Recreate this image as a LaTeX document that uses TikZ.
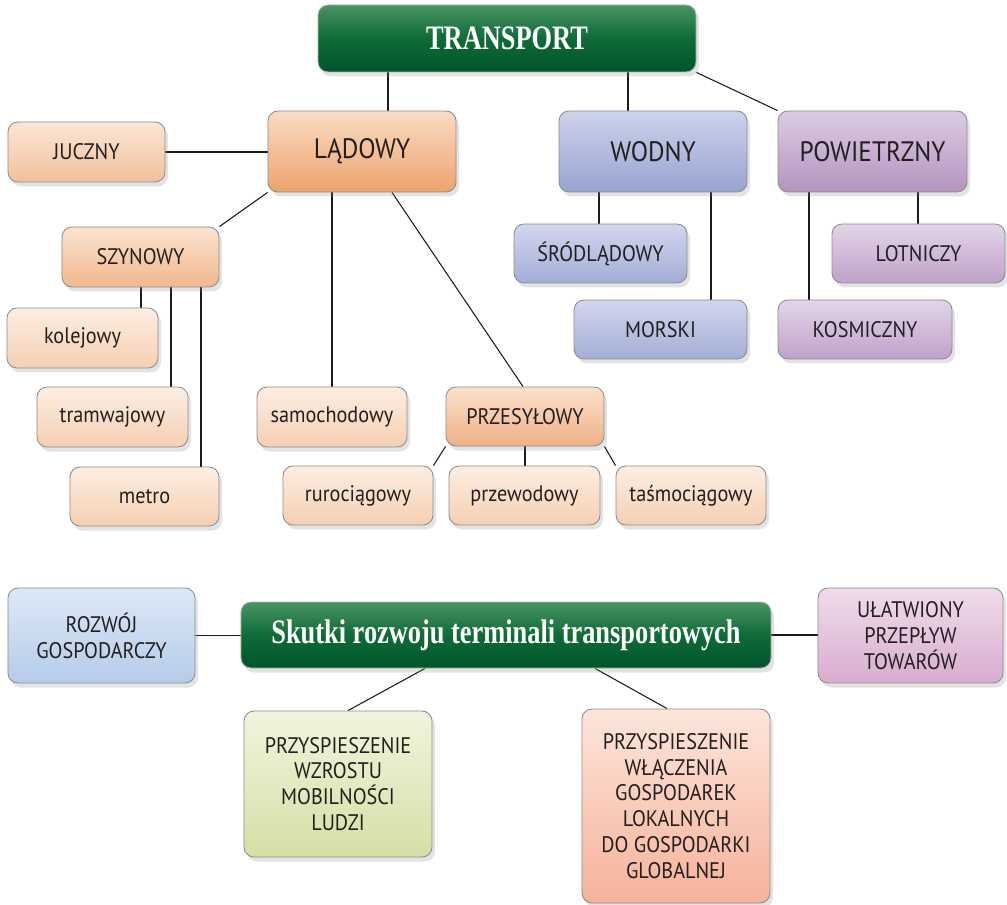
\documentclass[tikz,border=0pt]{standalone}
\usepackage{fontspec}
\setmainfont{PT Sans}[FakeStretch=0.9]
\newfontfamily\titlefont{Liberation Serif}[FakeStretch=0.77]
\usetikzlibrary{shadows,backgrounds,calc}
\definecolor{txt}{HTML}{231F20}
\definecolor{lineclr}{HTML}{1A1A1A}
\definecolor{gT}{HTML}{4A9464}\definecolor{gM}{HTML}{0E6B37}\definecolor{gB}{HTML}{00542A}
\definecolor{ladT}{HTML}{FADCC4}\definecolor{ladB}{HTML}{EDA36D}
\definecolor{wodT}{HTML}{CDD3EB}\definecolor{wodB}{HTML}{98A3D2}
\definecolor{powT}{HTML}{DDCBE3}\definecolor{powB}{HTML}{B394BF}
\definecolor{juT}{HTML}{FCE6D4}\definecolor{juB}{HTML}{F2C09C}
\definecolor{szT}{HTML}{FCE3CF}\definecolor{szB}{HTML}{F0B88E}
\definecolor{subT}{HTML}{FDEEE2}\definecolor{subB}{HTML}{F5CFB2}
\definecolor{prT}{HTML}{FCE1CC}\definecolor{prB}{HTML}{EFB086}
\definecolor{wsT}{HTML}{D2D7EE}\definecolor{wsB}{HTML}{A3ADD7}
\definecolor{psT}{HTML}{E3D4E8}\definecolor{psB}{HTML}{BFA2C9}
\definecolor{rzT}{HTML}{DDE8F6}\definecolor{rzB}{HTML}{B5CCEA}
\definecolor{ulT}{HTML}{EFDCEB}\definecolor{ulB}{HTML}{D8ADD0}
\definecolor{mbT}{HTML}{F1F5DE}\definecolor{mbB}{HTML}{D4DFA5}
\definecolor{glT}{HTML}{FDE5DB}\definecolor{glB}{HTML}{F6B29A}
\tikzset{
  base/.style={draw=black!45, line width=0.5pt, rounded corners=0.2cm, inner sep=0pt,
    text=txt, align=center, drop shadow={opacity=0.22, shadow xshift=0.6mm, shadow yshift=-0.9mm}},
  shb/.style 2 args={base, top color=#1, bottom color=#2},
  big/.style={font=\fontsize{16}{19}\selectfont},
  small/.style={font=\fontsize{12.8}{14.7}\selectfont},
  ttl/.style={base, draw=black!30, top color=gT, bottom color=gB, middle color=gM, text=white},
  thk/.style={draw=lineclr, line width=1.1pt},
  thn/.style={draw=lineclr, line width=0.6pt},
}
\newcommand\bx[7]{%
  \pgfmathsetmacro\cxx{(#3+#5)/2}\pgfmathsetmacro\cyy{(#4+#6)/2}%
  \pgfmathsetmacro\ww{(#5-#3)*0.02}\pgfmathsetmacro\hh{(#6-#4)*0.02}%
  \node[#2, minimum width=\ww cm, minimum height=\hh cm] (#1) at (\cxx,\cyy) {#7};}
\begin{document}
\begin{tikzpicture}[x=0.02cm,y=-0.02cm]
\useasboundingbox (0,0) rectangle (1007,905);
% top tree
\bx{tr}{ttl, font=\titlefont\bfseries\fontsize{19.5}{22}\selectfont}{318}{5}{696}{72}{TRANSPORT}
\bx{lad}{shb={ladT}{ladB}, big}{268}{111}{456}{192}{LĄDOWY}
\bx{wod}{shb={wodT}{wodB}, big}{559}{111}{747}{192}{WODNY}
\bx{pow}{shb={powT}{powB}, big}{778}{111}{967}{192}{POWIETRZNY}
\bx{jucz}{shb={juT}{juB}, small}{8}{122}{165}{182}{JUCZNY}
\bx{szyn}{shb={szT}{szB}, small}{62}{227}{219}{287}{SZYNOWY}
\bx{kol}{shb={subT}{subB}, small}{7}{308}{158}{368}{kolejowy}
\bx{tram}{shb={subT}{subB}, small}{37}{387}{188}{447}{tramwajowy}
\bx{met}{shb={subT}{subB}, small}{70}{467}{219}{526}{metro}
\bx{sam}{shb={subT}{subB}, small}{257}{387}{407}{447}{samochodowy}
\bx{prz}{shb={prT}{prB}, small}{446}{387}{604}{446}{PRZESYŁOWY}
\bx{ruro}{shb={subT}{subB}, small}{283}{466}{433}{525}{rurociągowy}
\bx{przew}{shb={subT}{subB}, small}{449}{466}{600}{525}{przewodowy}
\bx{tasm}{shb={subT}{subB}, small}{616}{466}{766}{525}{taśmociągowy}
\bx{srod}{shb={wsT}{wsB}, small}{514}{224}{687}{283}{ŚRÓDLĄDOWY}
\bx{mor}{shb={wsT}{wsB}, small}{574}{300}{747}{359}{MORSKI}
\bx{lot}{shb={psT}{psB}, small}{832}{224}{1005}{283}{LOTNICZY}
\bx{kos}{shb={psT}{psB}, small}{778}{300}{952}{359}{KOSMICZNY}
% bottom part
\bx{sk}{ttl, font=\titlefont\bfseries\fontsize{19.5}{22}\selectfont}{241}{602}{771}{668}{Skutki rozwoju terminali transportowych}
\bx{roz}{shb={rzT}{rzB}, small}{8}{588}{195}{683}{ROZWÓJ\\GOSPODARCZY}
\bx{ulat}{shb={ulT}{ulB}, small}{818}{588}{1003}{683}{UŁATWIONY\\PRZEPŁYW\\TOWARÓW}
\bx{mob}{shb={mbT}{mbB}, small}{244}{711}{432}{857}{PRZYSPIESZENIE\\WZROSTU\\MOBILNOŚCI\\LUDZI}
\bx{glob}{shb={glT}{glB}, small}{582}{709}{770}{903}{PRZYSPIESZENIE\\WŁĄCZENIA\\GOSPODAREK\\LOKALNYCH\\DO GOSPODARKI\\GLOBALNEJ}
% connectors
\begin{scope}[on background layer]
\draw[thk] (tr.south -| 388,0) -- (lad.north -| 388,0);
\draw[thk] (tr.south -| 628,0) -- (wod.north -| 628,0);
\draw[thn] (tr.south east) -- (pow.north west);
\draw[thn] (jucz.east) -- (jucz.east -| lad.west);
\draw[thn] (lad.south west) -- (szyn.north east);
\draw[thk] (lad.south -| 332,0) -- (sam.north -| 332,0);
\draw[thn] (lad.south -| 392,0) -- (prz.north -| 523,0);
\draw[thk] (szyn.south -| 141,0) -- (kol.north -| 141,0);
\draw[thk] (szyn.south -| 171,0) -- (tram.north -| 171,0);
\draw[thk] (szyn.south -| 201,0) -- (met.north -| 201,0);
\draw[thn] (prz.south west) -- (ruro.north east);
\draw[thk] (prz.south -| 525,0) -- (przew.north -| 525,0);
\draw[thn] (prz.south east) -- (tasm.north west);
\draw[thk] (wod.south -| 599,0) -- (srod.north -| 599,0);
\draw[thk] (wod.south -| 711,0) -- (mor.north -| 711,0);
\draw[thk] (pow.south -| 809,0) -- (kos.north -| 809,0);
\draw[thk] (pow.south -| 918,0) -- (lot.north -| 918,0);
\draw[thk] (roz.east) -- (roz.east -| sk.west);
\draw[thk] (sk.east) -- (sk.east -| ulat.west);
\draw[thn] (sk.south -| 425,0) -- (mob.north -| 348,0);
\draw[thn] (sk.south -| 595,0) -- (glob.north -| 667,0);
\end{scope}
\end{tikzpicture}
\end{document}
